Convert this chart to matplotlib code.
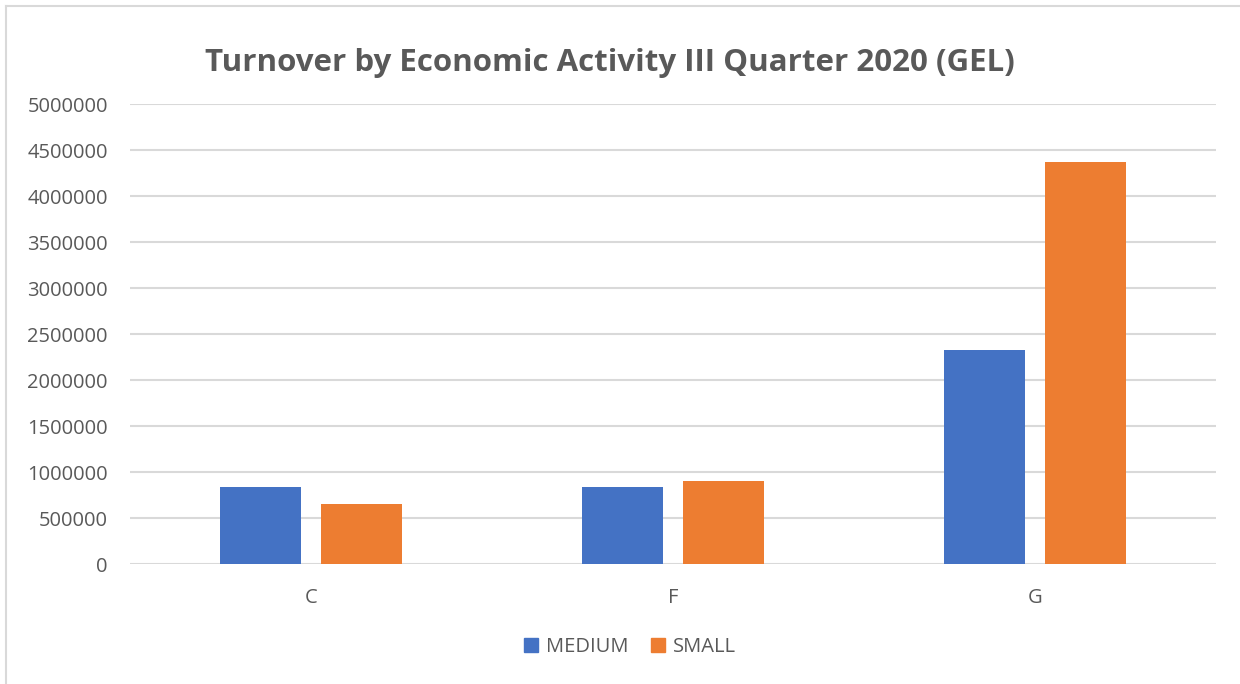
import matplotlib
matplotlib.use("Agg")
import matplotlib.pyplot as plt
import numpy as np
from matplotlib.patches import Rectangle
from matplotlib.lines import Line2D

categories = ["C", "F", "G"]
medium = [834000, 834000, 2326000]
small = [652000, 905000, 4373000]
series_names = ["MEDIUM", "SMALL"]
yticks = [0, 500000, 1000000, 1500000, 2000000, 2500000, 3000000,
          3500000, 4000000, 4500000, 5000000]

BLUE = "#4472C4"
ORANGE = "#ED7D31"
TEXT = "#595959"
GRID = "#D9D9D9"

plt.rcParams["font.family"] = ["Open Sans", "DejaVu Sans"]

W, H = 1240, 684
fig = plt.figure(figsize=(W / 100, H / 100), dpi=100)
fig.patch.set_facecolor("white")

# chart frame (left and top edges visible)
fig.add_artist(Line2D([5.5 / W, 5.5 / W], [0, 1 - 5.5 / H], transform=fig.transFigure,
                      color=GRID, lw=1.5))
fig.add_artist(Line2D([5.5 / W, 1], [1 - 5.5 / H, 1 - 5.5 / H], transform=fig.transFigure,
                      color=GRID, lw=1.5))

ax = fig.add_axes([130 / W, 120 / H, 1086 / W, 460 / H])
x = np.arange(len(categories))
bw = 0.224
off = 0.1395
ax.bar(x - off, medium, bw, color=BLUE, label=series_names[0], zorder=3)
ax.bar(x + off, small, bw, color=ORANGE, label=series_names[1], zorder=3)

ax.set_xlim(-0.5, len(categories) - 0.5)
ax.set_ylim(0, 5000000)
ax.set_yticks(yticks)
ax.set_yticklabels([str(v) for v in yticks])
ax.set_xticks(x)
ax.set_xticklabels(categories)
ax.yaxis.grid(True, color=GRID, lw=1.5, zorder=0)
ax.set_axisbelow(True)
for s in ax.spines.values():
    s.set_visible(False)
ax.tick_params(axis="both", length=0, colors=TEXT, labelsize=14.5)
ax.tick_params(axis="y", pad=16)
ax.tick_params(axis="x", pad=17)

fig.text(610 / W, 1 - 63 / H, "Turnover by Economic Activity III Quarter 2020 (GEL)",
         ha="center", va="center", fontsize=22.5, fontweight="bold", color=TEXT)

handles = [Rectangle((0, 0), 1, 1, color=BLUE), Rectangle((0, 0), 1, 1, color=ORANGE)]
fig.legend(handles, series_names, loc="center", bbox_to_anchor=(630 / W, 1 - 647 / H),
           ncol=2, frameon=False, fontsize=14.5, labelcolor=TEXT,
           handlelength=0.7, handleheight=0.7, handletextpad=0.4, columnspacing=1.1)

fig.savefig("out.png", dpi=100, facecolor="white")
